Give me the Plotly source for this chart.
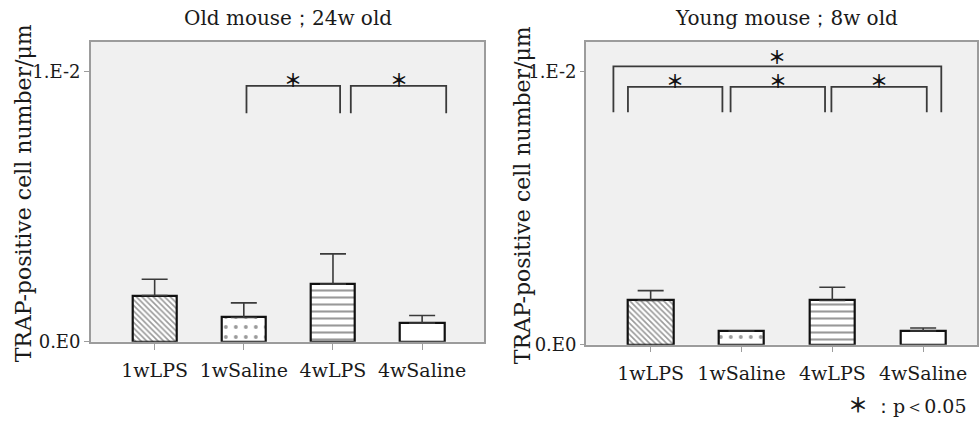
import plotly.graph_objects as go

# ---------------- data ----------------
categories = ["1wLPS", "1wSaline", "4wLPS", "4wSaline"]
old_means = [0.00171, 0.00090, 0.00213, 0.00069]
old_err = [0.00060, 0.00054, 0.00112, 0.00028]
young_means = [0.00162, 0.00050, 0.00162, 0.00050]
young_err = [0.00036, 0.00000, 0.00048, 0.00011]
ytick_vals = [0.0, 0.01]
ytick_text = ["0.E0", "1.E-2"]
old_title = "Old mouse；24w old"
young_title = "Young mouse；8w old"
y_label = "TRAP-positive cell number/μm"
sig_star = "＊"
sig_note = "：p＜0.05"
# significance brackets: (x start, x end, bracket level)
old_brackets = [(1.03, 2.08, 0.00946), (2.20, 3.27, 0.00946)]
young_brackets = [(-0.25, 0.79, 0.00943), (0.88, 1.92, 0.00943),
                  (1.99, 3.04, 0.00943), (-0.41, 3.20, 0.01018)]
bracket_bottom = [0.00845, 0.00850]

# ---------------- style ----------------
W, H = 979, 427
FONT = "DejaVu Serif"
STAR_FONT = "Noto Sans CJK JP"
patterns = ["\\", ".", "-", ""]
pattern_size = [4, 10, 7, 8]
pattern_solidity = [0.4, 0.12, 0.3, 0.3]
plot_bg = "#f0f0f0"
frame_col = "#9c9c9c"

fig = go.Figure()

def add_panel(means, errs, xa, ya):
    fig.add_trace(go.Bar(
        x=list(range(len(categories))), y=means, width=0.5,
        xaxis=xa, yaxis=ya,
        marker=dict(color="white", line=dict(color="#111111", width=2.2),
                    pattern=dict(shape=patterns, fgcolor="#333333",
                                 fillmode="overlay", size=pattern_size,
                                 solidity=pattern_solidity)),
        error_y=dict(type="data", array=errs, arrayminus=[0] * len(errs),
                     symmetric=False, color="#3a3a3a", thickness=1.6, width=13),
        showlegend=False,
    ))

add_panel(old_means, old_err, "x", "y")
add_panel(young_means, young_err, "x2", "y2")

def px_x(p):
    return p / W

def px_y(p):
    return 1 - p / H

axis_common = dict(showgrid=False, zeroline=False, showline=True, mirror=True,
                   linecolor=frame_col, linewidth=1.5,
                   ticks="outside", tickcolor=frame_col, tickwidth=1.3)
xtick_font = dict(family=FONT, size=19, color="#1a1a1a")
ytick_font = dict(family=FONT, size=18, color="#1a1a1a")

fig.update_layout(
    width=W, height=H,
    margin=dict(l=0, r=0, t=0, b=0),
    paper_bgcolor="white", plot_bgcolor=plot_bg,
    bargap=0,
    xaxis=dict(domain=[px_x(91), px_x(485)], range=[-0.716, 3.694], ticklen=6,
               tickfont=xtick_font, ticklabelstandoff=5,
               tickvals=list(range(4)), ticktext=categories, anchor="y", **axis_common),
    yaxis=dict(domain=[px_y(350), px_y(43)], range=[0, 0.01108], ticklen=5,
               tickfont=ytick_font,
               tickvals=ytick_vals, ticktext=ytick_text, anchor="x", **axis_common),
    xaxis2=dict(domain=[px_x(587), 1.0], range=[-0.714, 3.593], ticklen=6,
                tickfont=xtick_font, ticklabelstandoff=5,
                tickvals=list(range(4)), ticktext=categories, anchor="y2", **axis_common),
    yaxis2=dict(domain=[px_y(353), px_y(43)], range=[0, 0.01107], ticklen=4,
                tickfont=ytick_font,
                tickvals=ytick_vals, ticktext=ytick_text, anchor="x2", **axis_common),
)

shapes = []
annotations = []

def add_brackets(brs, bottom, xr, yr):
    top_level = max(b[2] for b in brs)
    for x0, x1, lvl in brs:
        shapes.append(dict(type="path", xref=xr, yref=yr,
                           path=f"M {x0},{bottom} L {x0},{lvl} L {x1},{lvl} L {x1},{bottom}",
                           line=dict(color="#3a3a3a", width=1.8)))
        outer = len(brs) > 2 and lvl == top_level
        annotations.append(dict(x=(x0 + x1) / 2, y=lvl, xref=xr, yref=yr,
                                text=sig_star, showarrow=False, yanchor="middle",
                                yshift=10 if outer else 7,
                                font=dict(family=STAR_FONT, size=18, color="#111",
                                          weight="bold")))

add_brackets(old_brackets, bracket_bottom[0], "x", "y")
add_brackets(young_brackets, bracket_bottom[1], "x2", "y2")

title_font = dict(family=FONT, size=20, color="#1a1a1a")
label_font = dict(family=FONT, size=22, color="#1a1a1a")
note_text = (f'<span style="font-family:{STAR_FONT};font-size:20px;font-weight:bold">'
             f'{sig_star}</span> {sig_note}')
annotations += [
    dict(x=px_x(289), y=px_y(18), xref="paper", yref="paper", text=old_title,
         showarrow=False, font=title_font, xanchor="center", yanchor="middle"),
    dict(x=px_x(788), y=px_y(18), xref="paper", yref="paper", text=young_title,
         showarrow=False, font=title_font, xanchor="center", yanchor="middle"),
    dict(x=px_x(23), y=px_y(198), xref="paper", yref="paper", text=y_label,
         showarrow=False, textangle=-90, font=label_font,
         xanchor="center", yanchor="middle"),
    dict(x=px_x(523), y=px_y(200), xref="paper", yref="paper", text=y_label,
         showarrow=False, textangle=-90, font=label_font,
         xanchor="center", yanchor="middle"),
    dict(x=px_x(909), y=px_y(414), xref="paper", yref="paper", text=note_text,
         showarrow=False, font=dict(family=FONT, size=19, color="#1a1a1a"),
         xanchor="center", yanchor="middle"),
]

fig.update_layout(shapes=shapes, annotations=annotations)
fig.write_html("out.html")
